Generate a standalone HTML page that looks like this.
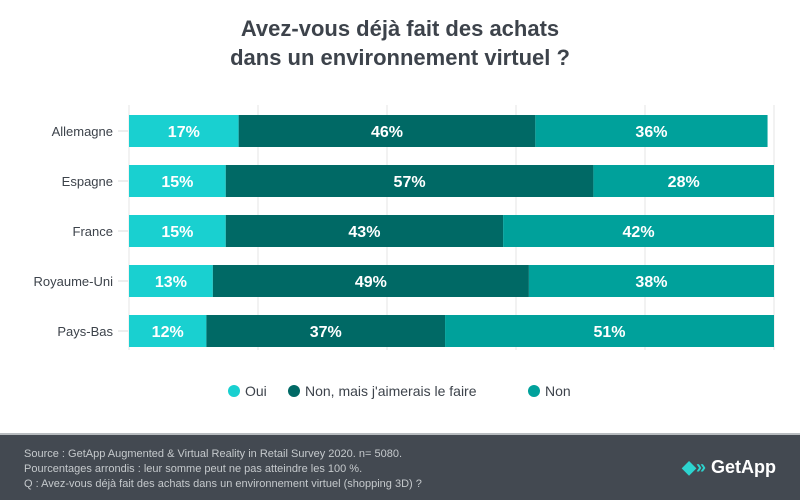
<!DOCTYPE html>
<html><head><meta charset="utf-8"><style>
body{margin:0;width:800px;height:500px;background:#fff;font-family:"Liberation Sans",sans-serif;overflow:hidden;position:relative}
.title{position:absolute;top:14px;left:0;width:800px;text-align:center;font-weight:bold;font-size:22px;line-height:29px;color:#3d434b}
.footer{position:absolute;left:0;top:433px;width:800px;height:67px;background:#434951;border-top:2px solid #b8bcbf;box-sizing:border-box}
.ft{position:absolute;left:24px;top:12px;font-size:11px;line-height:15px;color:#c5c9cc}
.logo{position:absolute;right:24px;top:22px;color:#fff;font-weight:bold;font-size:18px}
</style></head><body>
<div class="title">Avez-vous déjà fait des achats<br>dans un environnement virtuel ?</div>
<svg id="chart" width="800" height="430" style="position:absolute;left:0;top:0"></svg>
<div class="footer">
<div class="ft">Source : GetApp Augmented &amp; Virtual Reality in Retail Survey 2020. n= 5080.<br>Pourcentages arrondis : leur somme peut ne pas atteindre les 100 %.<br>Q : Avez-vous déjà fait des achats dans un environnement virtuel (shopping 3D) ?</div>
<div class="logo"><span style="color:#2dd4cf">◆»</span> GetApp</div>
</div>
<script>
const categories=["Allemagne","Espagne","France","Royaume-Uni","Pays-Bas"];
const oui=[17,15,15,13,12];
const nonMais=[46,57,43,49,37];
const non=[36,28,42,38,51];
const seriesNames=["Oui","Non, mais j'aimerais le faire","Non"];
const colors=["#19d0d0","#006965","#00a19b"];
const ticks=[0,20,40,60,80,100];
const svg=document.getElementById('chart');
const NS='http://www.w3.org/2000/svg';
const x0=129,scale=6.45;
const xs=v=>x0+v*scale;
const yc=i=>131+i*50;
function mk(t,a){const e=document.createElementNS(NS,t);for(const k in a)e.setAttribute(k,a[k]);svg.appendChild(e);return e;}
ticks.forEach(t=>{const g=mk('line',{x1:xs(t),x2:xs(t),y1:105,y2:350,stroke:'#e6e6e6','stroke-width':1});

});
const series=[oui,nonMais,non];
categories.forEach((c,i)=>{
 const tk=mk('line',{x1:118,x2:128,y1:yc(i),y2:yc(i),stroke:'#ddd'});
 
 
 const l=mk('text',{x:113,y:yc(i)+5,'text-anchor':'end','font-size':13,fill:'#3d434b'});l.textContent=c;
 
 
 let acc=0;
 series.forEach((s,k)=>{
  const v=s[i];
  const r=mk('rect',{x:xs(acc),y:yc(i)-16,width:v*scale,height:32,fill:colors[k]});
  
  
  const t=mk('text',{x:xs(acc+v/2),y:yc(i)+6,'text-anchor':'middle','font-size':16,'font-weight':'bold',fill:'#fff'});
  t.textContent=v+'%';
  
  
  acc+=v;
 });
});
const lx=[228,288,528];
seriesNames.forEach((n,k)=>{
 const c=mk('circle',{cx:lx[k]+6,cy:391,r:6,fill:colors[k]});
 
 
 const t=mk('text',{x:lx[k]+17,y:396,'font-size':14,fill:'#3d434b'});t.textContent=n;
 
 
});
</script>
</body></html>
